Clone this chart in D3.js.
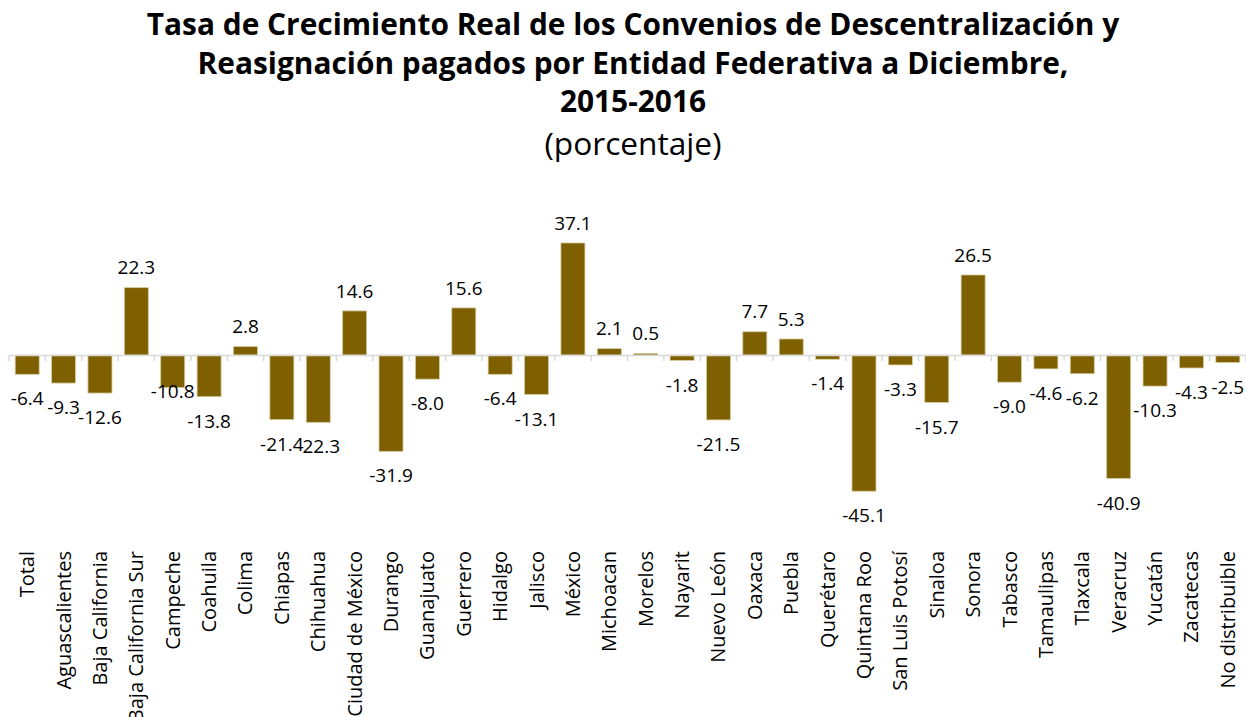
<!DOCTYPE html>
<html>
<head>
<meta charset="utf-8">
<script src="https://cdn.jsdelivr.net/npm/d3@7"></script>
<style>
  body { margin: 0; background: #fff; }
  svg { display: block; font-family: "Open Sans", "Noto Sans", sans-serif; }
</style>
</head>
<body>
<div id="chart"></div>
<script>
const categories = ['Total', 'Aguascalientes', 'Baja California', 'Baja California Sur', 'Campeche',
  'Coahuila', 'Colima', 'Chiapas', 'Chihuahua', 'Ciudad de México', 'Durango', 'Guanajuato',
  'Guerrero', 'Hidalgo', 'Jalisco', 'México', 'Michoacan', 'Morelos', 'Nayarit', 'Nuevo León',
  'Oaxaca', 'Puebla', 'Querétaro', 'Quintana Roo', 'San Luis Potosí', 'Sinaloa', 'Sonora',
  'Tabasco', 'Tamaulipas', 'Tlaxcala', 'Veracruz', 'Yucatán', 'Zacatecas', 'No distribuible'];

const values = [-6.4, -9.3, -12.6, 22.3, -10.8, -13.8, 2.8, -21.4, -22.3, 14.6, -31.9, -8.0,
  15.6, -6.4, -13.1, 37.1, 2.1, 0.5, -1.8, -21.5, 7.7, 5.3, -1.4, -45.1, -3.3, -15.7, 26.5,
  -9.0, -4.6, -6.2, -40.9, -10.3, -4.3, -2.5];

const titleLines = ['Tasa de Crecimiento Real de los Convenios de Descentralización y',
  'Reasignación pagados por Entidad Federativa a Diciembre,',
  '2015-2016'];
const subtitle = '(porcentaje)';

const width = 1246, height = 717;
const barColor = '#7f6000';

const data = categories.map((c, i) => ({ name: c, value: values[i] }));

const svg = d3.select('#chart').append('svg')
  .attr('width', width)
  .attr('height', height);

// shrink/grow a font so the text spans the width seen in the original
function fitWidth(sel, target) {
  const size = +sel.attr('font-size');
  const w = sel.node().getComputedTextLength();
  sel.attr('font-size', size * target / w);
  return size * target / w;
}

// title
const titleText = svg.append('g')
  .selectAll('text')
  .data(titleLines)
  .enter().append('text')
  .attr('x', 633)
  .attr('y', (d, i) => [35, 74, 112][i])
  .attr('text-anchor', 'middle')
  .attr('font-weight', 'bold')
  .attr('font-size', 27)
  .attr('fill', '#000')
  .text(d => d);
const titleSize = fitWidth(d3.select(titleText.nodes()[0]), 973);
titleText.attr('font-size', titleSize);

const sub = svg.append('text')
  .attr('x', 633)
  .attr('y', 155)
  .attr('text-anchor', 'middle')
  .attr('font-size', 26)
  .attr('fill', '#000')
  .text(subtitle);
fitWidth(sub, 177);

const x = d3.scaleBand()
  .domain(categories)
  .range([9, 1246])
  .paddingInner(0.34)
  .paddingOuter(0.17);

const y = d3.scaleLinear()
  .domain([-50, 40])
  .range([506, 234.2]);

// bars
svg.append('g')
  .selectAll('rect')
  .data(data)
  .enter().append('rect')
  .attr('x', d => x(d.name))
  .attr('width', x.bandwidth())
  .attr('y', d => y(Math.max(0, d.value)))
  .attr('height', d => Math.abs(y(d.value) - y(0)))
  .attr('fill', barColor)
  .attr('stroke', '#d8cba0')
  .attr('stroke-width', 0.8);

// axis at zero with ticks between categories
const axis = d3.axisBottom(x).tickSize(0).tickFormat('');
const gx = svg.append('g')
  .attr('transform', `translate(0,${y(0)})`)
  .call(axis);
gx.select('.domain').attr('stroke', '#d9d9d9').attr('stroke-width', 1.5);
const step = x.step();
gx.selectAll('line.sep')
  .data(d3.range(categories.length + 1))
  .enter().append('line')
  .attr('class', 'sep')
  .attr('x1', i => 9 + i * step)
  .attr('x2', i => 9 + i * step)
  .attr('y1', 0)
  .attr('y2', 6)
  .attr('stroke', '#d9d9d9')
  .attr('stroke-width', 1.5);

// data labels (Campeche was moved up in the original to avoid overlap)
const nudge = { 'Campeche': -21 };
svg.append('g')
  .selectAll('text')
  .data(data)
  .enter().append('text')
  .attr('x', d => x(d.name) + x.bandwidth() / 2)
  .attr('y', d => (d.value >= 0 ? y(d.value) - 20 : y(d.value) + 24.5) + (nudge[d.name] || 0))
  .attr('dy', '0.35em')
  .attr('text-anchor', 'middle')
  .attr('font-size', 19)
  .attr('fill', '#000')
  .text(d => d3.format('.1f')(d.value).replace('−', '-'));

// category labels, rotated
svg.append('g')
  .selectAll('text')
  .data(categories)
  .enter().append('text')
  .attr('transform', d => `translate(${x(d) + x.bandwidth() / 2},551) rotate(-90)`)
  .attr('dy', '0.35em')
  .attr('text-anchor', 'end')
  .attr('font-size', 20)
  .attr('fill', '#000')
  .text(d => d);
</script>
</body>
</html>
